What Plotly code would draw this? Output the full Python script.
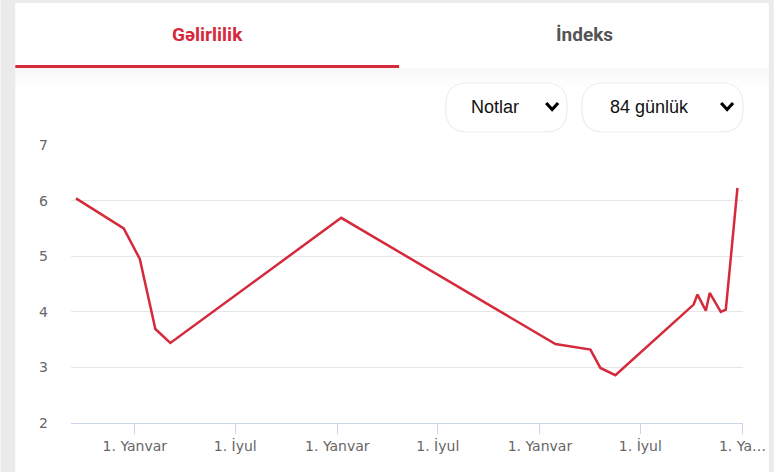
import plotly.graph_objects as go

# ---- data ----
dates = ["2020-09-17", "2020-12-12", "2021-01-10", "2021-02-07", "2021-03-06",
         "2022-01-08", "2023-01-29", "2023-04-02", "2023-04-20", "2023-05-17",
         "2023-10-05", "2023-10-12", "2023-10-27", "2023-11-03", "2023-11-23",
         "2023-12-02", "2023-12-09", "2023-12-23"]
values = [6.04, 5.50, 4.95, 3.69, 3.44,
          5.69, 3.42, 3.32, 2.99, 2.86,
          4.13, 4.31, 4.02, 4.34, 4.00,
          4.04, 4.76, 6.23]
tick_vals = ["2021-01-01", "2021-07-01", "2022-01-01", "2022-07-01",
             "2023-01-01", "2023-07-01", "2024-01-01"]
tick_text = ["1. Yanvar", "1. İyul", "1. Yanvar", "1. İyul",
             "1. Yanvar", "1. İyul", "1. Ya…"]
y_ticks = [2, 3, 4, 5, 6, 7]
tabs = ["Gəlirlilik", "İndeks"]
dropdowns = ["Notlar", "84 günlük"]

W, H = 778, 472
L, R, T, B = 71, 747, 145, 423

def px(x):
    return (x - L) / (R - L)

def py(y):
    return (B - y) / (B - T)

RED = "#d42a3c"

fig = go.Figure()
fig.add_trace(go.Scatter(x=dates, y=values, mode="lines",
                         line=dict(color=RED, width=2.5), hoverinfo="x+y",
                         showlegend=False))

shapes = []
# gray page background and white card
shapes.append(dict(type="rect", xref="paper", yref="paper", x0=px(0), x1=px(W), y0=py(H), y1=py(0),
                   fillcolor="#ebebeb", line=dict(width=0), layer="below"))
shapes.append(dict(type="rect", xref="paper", yref="paper", x0=px(15), x1=px(773), y0=py(H), y1=py(3),
                   fillcolor="#ffffff", line=dict(width=0), layer="below"))
# header shadow
for i in range(10):
    shapes.append(dict(type="rect", xref="paper", yref="paper", x0=px(15), x1=px(773),
                       y0=py(68 + 2 * (i + 1)), y1=py(68 + 2 * i),
                       fillcolor="rgba(0,0,0,%.3f)" % (0.03 * (1 - i / 10)), line=dict(width=0), layer="below"))
# tab underline
shapes.append(dict(type="rect", xref="paper", yref="paper", x0=px(15), x1=px(401), y0=py(68), y1=py(65),
                   fillcolor=RED, line=dict(width=0), layer="below"))

def pill(x0, x1, y0, y1, r):
    def P(x, y):
        return "%f,%f" % (px(x), py(y))
    path = ("M " + P(x0 + r, y0) + " L " + P(x1 - r, y0) +
            " Q " + P(x1, y0) + " " + P(x1, y0 + r) +
            " L " + P(x1, y1 - r) +
            " Q " + P(x1, y1) + " " + P(x1 - r, y1) +
            " L " + P(x0 + r, y1) +
            " Q " + P(x0, y1) + " " + P(x0, y1 - r) +
            " L " + P(x0, y0 + r) +
            " Q " + P(x0, y0) + " " + P(x0 + r, y0) + " Z")
    return dict(type="path", xref="paper", yref="paper", path=path,
                fillcolor="#ffffff", line=dict(color="#eeeeee", width=1.2), layer="below")

boxes = [(448, 570, 83, 132, 555, 498), (585, 747, 83, 132, 731, 653)]
for (x0, x1, y0, y1, cx, tx) in boxes:
    shapes.append(pill(x0, x1, y0, y1, 22))
    path = "M %f,%f L %f,%f L %f,%f" % (px(cx - 6), py(103), px(cx), py(109.5), px(cx + 6), py(103))
    shapes.append(dict(type="path", xref="paper", yref="paper", path=path,
                       line=dict(color="#000000", width=3.2)))

annotations = []
annotations.append(dict(text="<b>%s</b>" % tabs[0], x=px(208), y=py(34), xref="paper", yref="paper",
                        xanchor="center", yanchor="middle",
                        showarrow=False, font=dict(family="Roboto", size=19, color=RED)))
annotations.append(dict(text="<b>%s</b>" % tabs[1], x=px(588), y=py(34), xref="paper", yref="paper",
                        xanchor="center", yanchor="middle",
                        showarrow=False, font=dict(family="Roboto", size=19, color="#555555")))
for (x0, x1, y0, y1, cx, tx), label in zip(boxes, dropdowns):
    annotations.append(dict(text=label, x=px(tx), y=py(107), xref="paper", yref="paper",
                            xanchor="center", yanchor="middle",
                            showarrow=False, font=dict(family="Liberation Sans, Arial", size=18, color="#111111")))

fig.update_layout(
    width=W, height=H,
    margin=dict(l=L, r=W - R, t=T, b=H - B, pad=0),
    paper_bgcolor="#ffffff", plot_bgcolor="rgba(0,0,0,0)",
    shapes=shapes, annotations=annotations,
    xaxis=dict(range=["2020-09-08", "2024-01-02"], tickvals=tick_vals, ticktext=tick_text,
               showgrid=False, showline=True, linecolor="#ccd6eb", linewidth=1,
               ticks="outside", ticklen=10, tickcolor="#ccd6eb", zeroline=False,
               tickfont=dict(family="DejaVu Sans", size=14, color="#666666"), fixedrange=True),
    yaxis=dict(range=[2, 7], tickvals=y_ticks, showgrid=True, gridcolor="#e6e6e6", gridwidth=1,
               showline=False, zeroline=False, ticks="", ticklabelstandoff=22,
               tickfont=dict(family="DejaVu Sans", size=14, color="#666666"), fixedrange=True),
)
fig.write_html("out.html", config={"displayModeBar": False},
               post_script="document.body.style.margin='0px';document.body.style.overflow='hidden';")
